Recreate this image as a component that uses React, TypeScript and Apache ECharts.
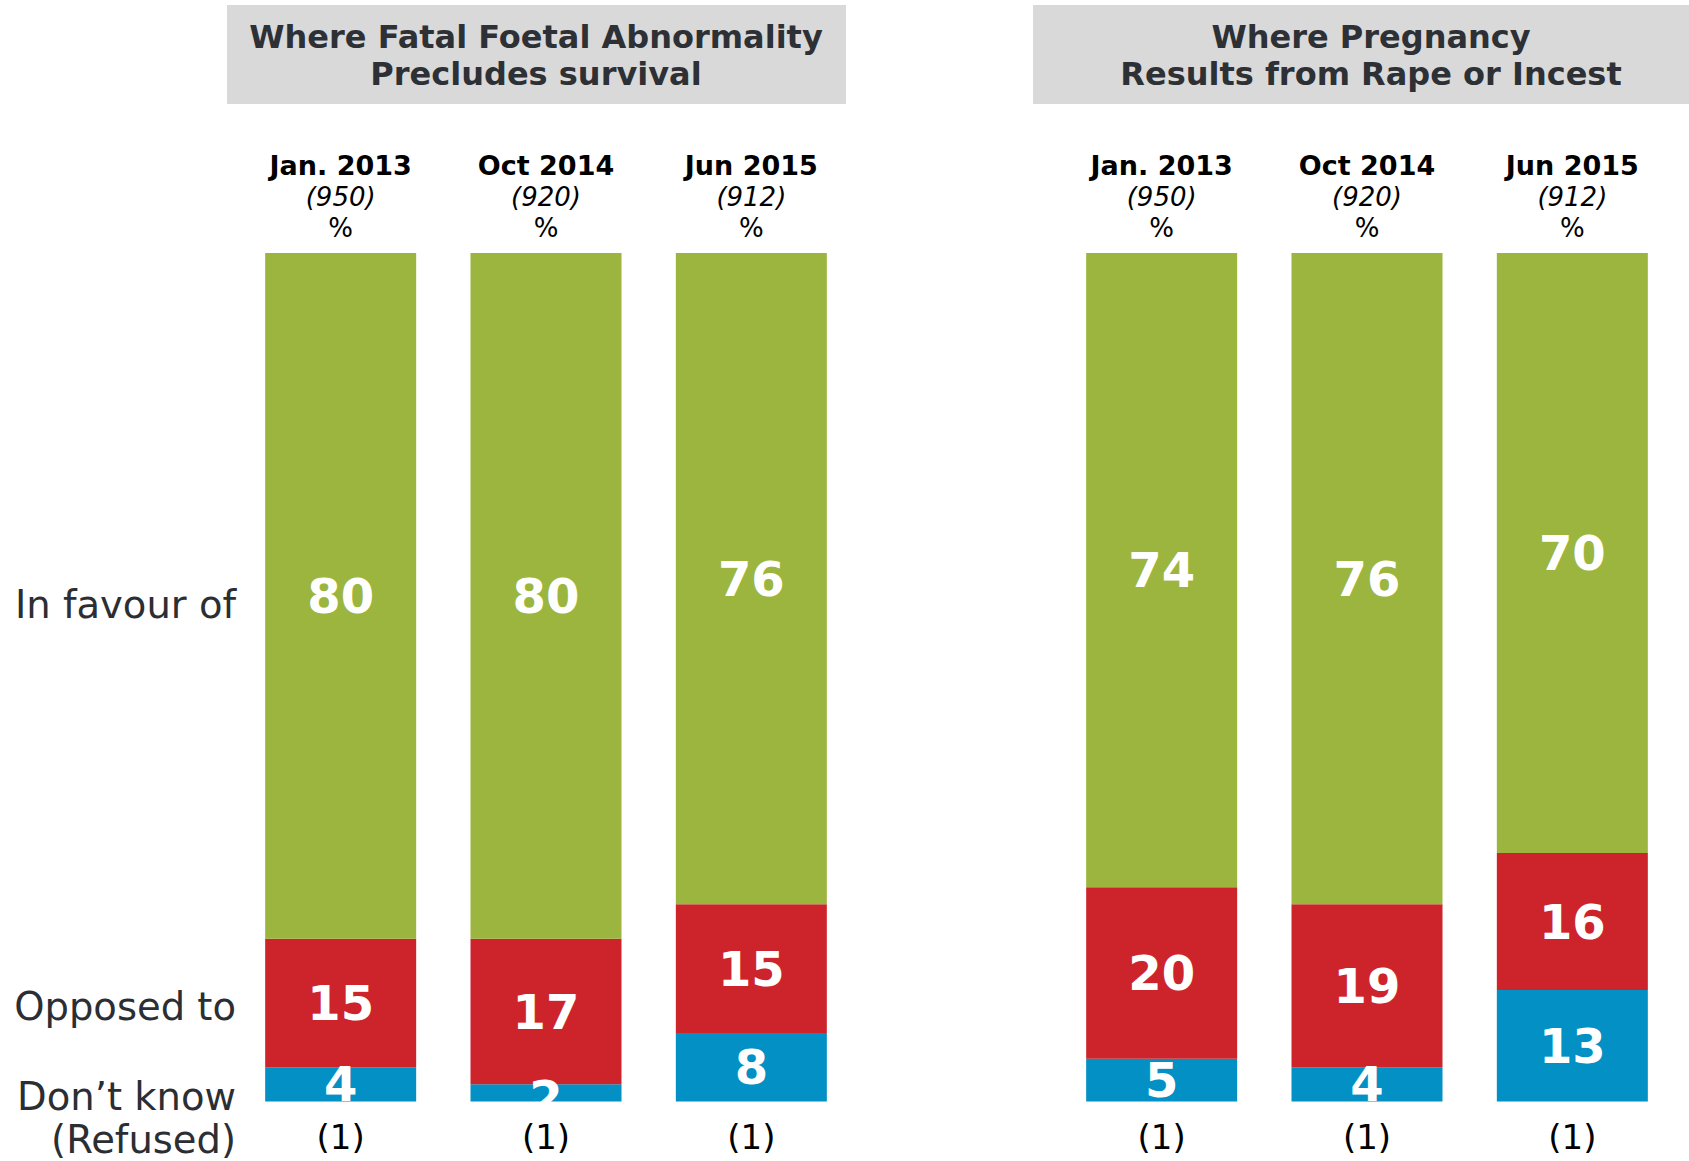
import React, { useEffect, useRef } from "react";
import * as echarts from "echarts";

const waves = ["Jan. 2013", "Oct 2014", "Jun 2015"];
const sampleSizes = [950, 920, 912];
const refused = [1, 1, 1];

const panelTitles = [
  "Where Fatal Foetal Abnormality\nPrecludes survival",
  "Where Pregnancy\nResults from Rape or Incest",
];

// Panel 1: fatal foetal abnormality
const favour1 = [80, 80, 76];
const opposed1 = [15, 17, 15];
const dontKnow1 = [4, 2, 8];

// Panel 2: rape or incest
const favour2 = [74, 76, 70];
const opposed2 = [20, 19, 16];
const dontKnow2 = [5, 4, 13];

const rowLabels = ["In favour of", "Opposed to", "Don\u2019t know", "(Refused)"];

const GREEN = "#9BB53E";
const RED = "#CD242C";
const BLUE = "#0290C5";
const FONT = "DejaVu Sans";

export default function App() {
  const ref = useRef<HTMLDivElement>(null);

  useEffect(() => {
    if (!ref.current) return;
    const chart = echarts.init(ref.current, null, { renderer: "svg" });

    const panels = [
      { favour: favour1, opposed: opposed1, dk: dontKnow1 },
      { favour: favour2, opposed: opposed2, dk: dontKnow2 },
    ];
    const total = Math.max(
      ...panels.flatMap((p) => p.favour.map((v, i) => v + p.opposed[i] + p.dk[i]))
    );

    const grids = [
      { left: 238, width: 616, top: 253, bottom: 59.5 },
      { left: 1059, width: 616, top: 253, bottom: 59.5 },
    ];

    const xAxes: any[] = [];
    const yAxes: any[] = [];
    const series: any[] = [];

    const labelBase = {
      show: true,
      position: "inside",
      color: "#fff",
      fontFamily: FONT,
      fontWeight: "bold",
      fontSize: 48,
      lineHeight: 34,
    };

    panels.forEach((p, gi) => {
      xAxes.push({
        type: "category",
        gridIndex: gi,
        data: waves,
        position: "bottom",
        axisLine: { show: false },
        axisTick: { show: false },
        axisLabel: {
          margin: 17,
          fontFamily: FONT,
          fontSize: 34,
          color: "#000",
          lineHeight: 36,
          formatter: (_v: string, idx: number) => `(${refused[idx]})`,
        },
      });
      xAxes.push({
        type: "category",
        gridIndex: gi,
        data: waves,
        position: "top",
        axisLine: { show: false },
        axisTick: { show: false },
        axisLabel: {
          margin: 10,
          formatter: (v: string, idx: number) =>
            `{b|${v}}\n{i|(${sampleSizes[idx]})}\n{p|%}`,
          rich: {
            b: { fontFamily: FONT, fontWeight: "bold", fontSize: 27, color: "#000", lineHeight: 31 },
            i: { fontFamily: FONT, fontStyle: "italic", fontSize: 26, color: "#000", lineHeight: 31 },
            p: { fontFamily: FONT, fontSize: 26, color: "#000", lineHeight: 31 },
          },
        },
      });
      yAxes.push({
        type: "value",
        gridIndex: gi,
        min: 0,
        max: total,
        show: false,
        splitLine: { show: false },
      });

      const xIdx = gi * 2;
      const stack = "s" + gi;
      series.push({
        type: "bar",
        name: "Don't know",
        xAxisIndex: xIdx,
        yAxisIndex: gi,
        stack,
        barWidth: 151,
        data: p.dk.map((v) => ({
          value: v,
          label: v <= 3 ? { offset: [0, 5] } : undefined,
        })),
        itemStyle: { color: BLUE },
        label: labelBase,
      });
      series.push({
        type: "bar",
        name: "Opposed to",
        xAxisIndex: xIdx,
        yAxisIndex: gi,
        stack,
        barWidth: 151,
        data: p.opposed,
        itemStyle: { color: RED },
        label: labelBase,
      });
      series.push({
        type: "bar",
        name: "In favour of",
        xAxisIndex: xIdx,
        yAxisIndex: gi,
        stack,
        barWidth: 151,
        data: p.favour,
        itemStyle: { color: GREEN },
        label: labelBase,
      });
    });

    const titleStyle = {
      fill: "#2d3035",
      font: `bold 32px "${FONT}"`,
      align: "center",
      verticalAlign: "middle",
      lineHeight: 37,
    };
    const rowStyle = {
      fill: "#2b2e33",
      font: `38.5px "${FONT}"`,
      align: "right",
      verticalAlign: "middle",
    };

    chart.setOption({
      animation: false,
      backgroundColor: "#fff",
      grid: grids,
      xAxis: xAxes,
      yAxis: yAxes,
      series,
      graphic: [
        { type: "rect", shape: { x: 227, y: 5, width: 619, height: 99 }, style: { fill: "#D9D9D9" } },
        { type: "rect", shape: { x: 1033, y: 5, width: 656, height: 99 }, style: { fill: "#D9D9D9" } },
        { type: "text", x: 536, y: 55.5, style: { ...titleStyle, text: panelTitles[0] } },
        { type: "text", x: 1371, y: 55.5, style: { ...titleStyle, text: panelTitles[1] } },
        { type: "text", x: 236, y: 604, style: { ...rowStyle, text: rowLabels[0] } },
        { type: "text", x: 236, y: 1006, style: { ...rowStyle, text: rowLabels[1] } },
        { type: "text", x: 236, y: 1096, style: { ...rowStyle, text: rowLabels[2] } },
        { type: "text", x: 236, y: 1139, style: { ...rowStyle, text: rowLabels[3] } },
      ],
    });

    return () => chart.dispose();
  }, []);

  return (
    <div
      ref={ref}
      style={{ position: "fixed", left: 0, top: 0, width: 1689, height: 1161 }}
    />
  );
}
